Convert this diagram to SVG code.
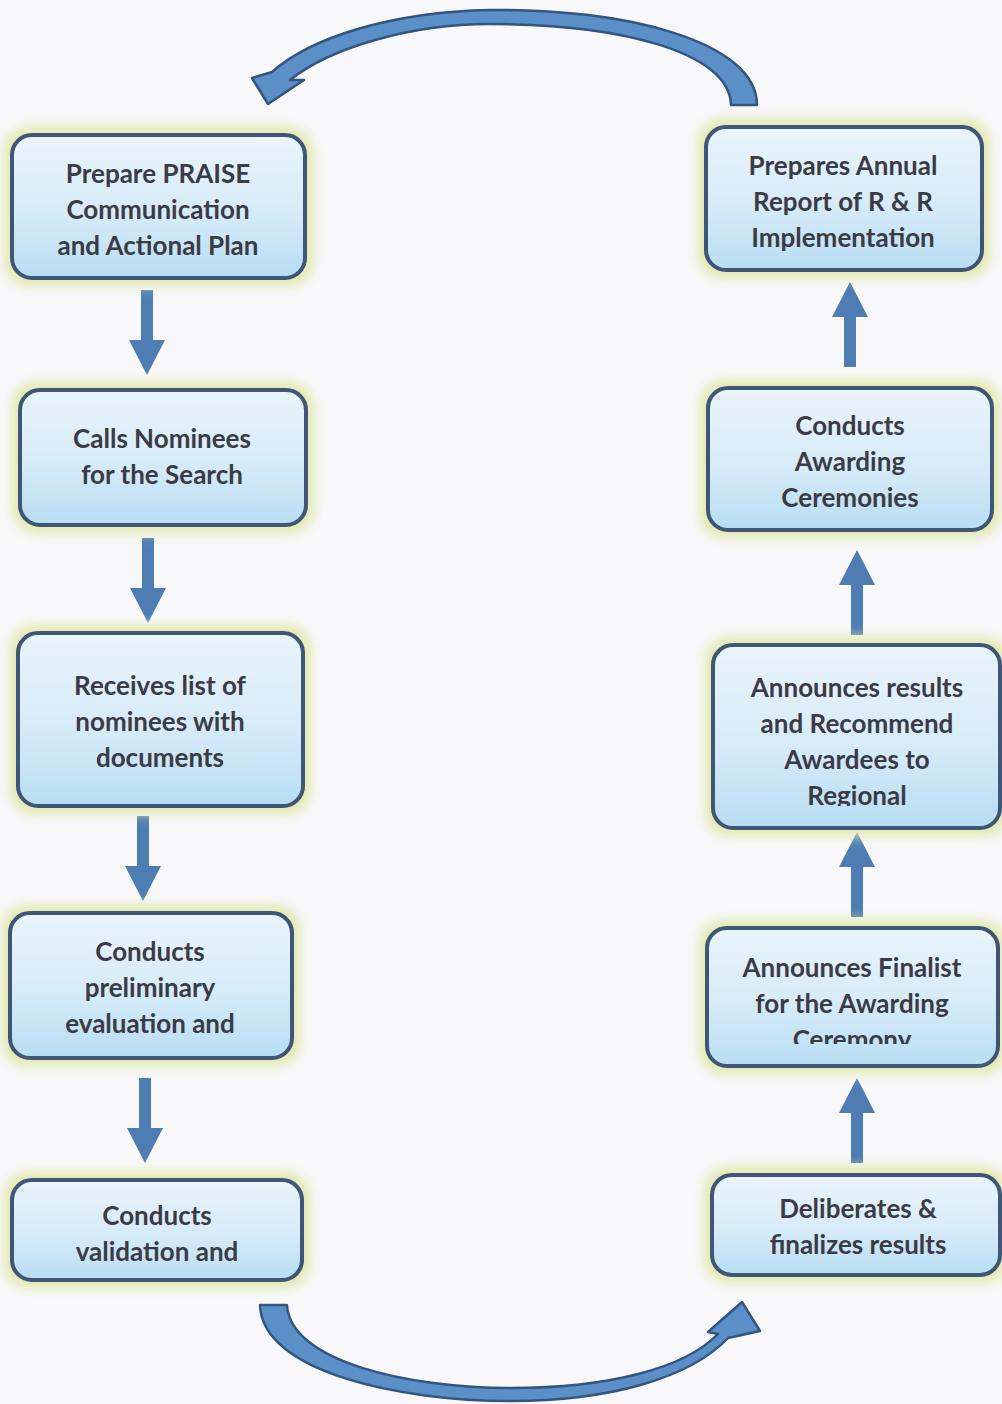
<svg xmlns="http://www.w3.org/2000/svg" width="1002" height="1404" viewBox="0 0 1002 1404">
<style>
.box{fill:url(#boxGrad);stroke:#3f5676;stroke-width:4}
.glow{fill:#e2e8ae;filter:url(#blur)}
.lbl{font-family:Lato,"Liberation Sans",sans-serif;font-weight:bold;font-size:26px;fill:#3b3b46;text-anchor:middle}
.arr{fill:#4d7db3}
.curve{fill:#5a8fc8;stroke:#34557e;stroke-width:2.5;stroke-linejoin:round}
</style>
<defs>
<linearGradient id="boxGrad" x1="0" y1="0" x2="0" y2="1">
<stop offset="0" stop-color="#eaf4fb"/>
<stop offset="0.55" stop-color="#d6ebf8"/>
<stop offset="1" stop-color="#b8ddf3"/>
</linearGradient>
<filter id="blur" x="-20%" y="-30%" width="140%" height="160%">
<feGaussianBlur stdDeviation="6"/>
</filter>
<path id="down" d="M -6 0 H 6 V 50 H 18 L 0 85 L -18 50 H -6 Z"/>
<path id="up" d="M -6 85 H 6 V 35 H 18 L 0 0 L -18 35 H -6 Z"/>
<clipPath id="clipR3"><rect x="713" y="645" width="287" height="161"/></clipPath>
<clipPath id="clipR4"><rect x="707" y="928" width="291" height="116"/></clipPath>
</defs>
<rect x="0" y="0" width="1002" height="1404" fill="#f8f8fa"/>

<g id="connectors">
<path class="curve" d="M 757 105 C 757 40, 620 8, 490 10 C 390 12, 310 38, 272 72 L 252 78 L 268 104 L 304 80 L 290 80 C 330 48, 410 24, 490 24 C 620 24, 730 52, 731 105 Z"/>
<path class="curve" d="M 260 1305 C 262 1372, 400 1401, 510 1401 C 610 1401, 690 1378, 728 1338 L 760 1331 L 742 1302 L 708 1332 L 718 1334 C 685 1368, 610 1388, 510 1388 C 410 1388, 290 1362, 287 1305 Z"/>
<use href="#down" class="arr" x="147" y="290"/>
<use href="#down" class="arr" x="148" y="538"/>
<use href="#down" class="arr" x="143" y="816"/>
<use href="#down" class="arr" x="145" y="1078"/>
<use href="#up" class="arr" x="850" y="282"/>
<use href="#up" class="arr" x="857" y="550"/>
<use href="#up" class="arr" x="857" y="832"/>
<use href="#up" class="arr" x="857" y="1078"/>
</g>

<g id="node-prepare-praise">
<rect class="glow" x="4" y="127" width="309" height="159" rx="24"/>
<rect class="box" x="12" y="135" width="293" height="143" rx="20"/>
<text class="lbl" x="158" y="183">Prepare PRAISE</text>
<text class="lbl" x="158" y="219">Communication</text>
<text class="lbl" x="158" y="255">and Actional Plan</text>
</g>

<g id="node-calls-nominees">
<rect class="glow" x="12" y="382" width="302" height="151" rx="24"/>
<rect class="box" x="20" y="390" width="286" height="135" rx="20"/>
<text class="lbl" x="162" y="448">Calls Nominees</text>
<text class="lbl" x="162" y="484">for the Search</text>
</g>

<g id="node-receives-list">
<rect class="glow" x="10" y="625" width="301" height="189" rx="24"/>
<rect class="box" x="18" y="633" width="285" height="173" rx="20"/>
<text class="lbl" x="160" y="695">Receives list of</text>
<text class="lbl" x="160" y="731">nominees with</text>
<text class="lbl" x="160" y="767">documents</text>
</g>

<g id="node-preliminary-evaluation">
<rect class="glow" x="2" y="905" width="298" height="161" rx="24"/>
<rect class="box" x="10" y="913" width="282" height="145" rx="20"/>
<text class="lbl" x="150" y="961">Conducts</text>
<text class="lbl" x="150" y="997">preliminary</text>
<text class="lbl" x="150" y="1033">evaluation and</text>
</g>

<g id="node-validation">
<rect class="glow" x="4" y="1172" width="306" height="116" rx="24"/>
<rect class="box" x="12" y="1180" width="290" height="100" rx="20"/>
<text class="lbl" x="157" y="1225">Conducts</text>
<text class="lbl" x="157" y="1261">validation and</text>
</g>

<g id="node-annual-report">
<rect class="glow" x="698" y="119" width="292" height="159" rx="24"/>
<rect class="box" x="706" y="127" width="276" height="143" rx="20"/>
<text class="lbl" x="843" y="175">Prepares Annual</text>
<text class="lbl" x="843" y="211">Report of R &amp; R</text>
<text class="lbl" x="843" y="247">Implementation</text>
</g>

<g id="node-awarding-ceremonies">
<rect class="glow" x="700" y="380" width="300" height="158" rx="24"/>
<rect class="box" x="708" y="388" width="284" height="142" rx="20"/>
<text class="lbl" x="850" y="435">Conducts</text>
<text class="lbl" x="850" y="471">Awarding</text>
<text class="lbl" x="850" y="507">Ceremonies</text>
</g>

<g id="node-announces-results">
<rect class="glow" x="705" y="637" width="303" height="199" rx="24"/>
<rect class="box" x="713" y="645" width="287" height="183" rx="20"/>
<g clip-path="url(#clipR3)">
<text class="lbl" x="857" y="697">Announces results</text>
<text class="lbl" x="857" y="733">and Recommend</text>
<text class="lbl" x="857" y="769">Awardees to</text>
<text class="lbl" x="857" y="805">Regional</text>
</g>
</g>

<g id="node-announces-finalist">
<rect class="glow" x="699" y="920" width="307" height="154" rx="24"/>
<rect class="box" x="707" y="928" width="291" height="138" rx="20"/>
<g clip-path="url(#clipR4)">
<text class="lbl" x="852" y="977">Announces Finalist</text>
<text class="lbl" x="852" y="1013">for the Awarding</text>
<text class="lbl" x="852" y="1049">Ceremony</text>
</g>
</g>

<g id="node-deliberates">
<rect class="glow" x="704" y="1167" width="304" height="116" rx="24"/>
<rect class="box" x="712" y="1175" width="288" height="100" rx="20"/>
<text class="lbl" x="858" y="1218">Deliberates &amp;</text>
<text class="lbl" x="858" y="1254">finalizes results</text>
</g>
</svg>
